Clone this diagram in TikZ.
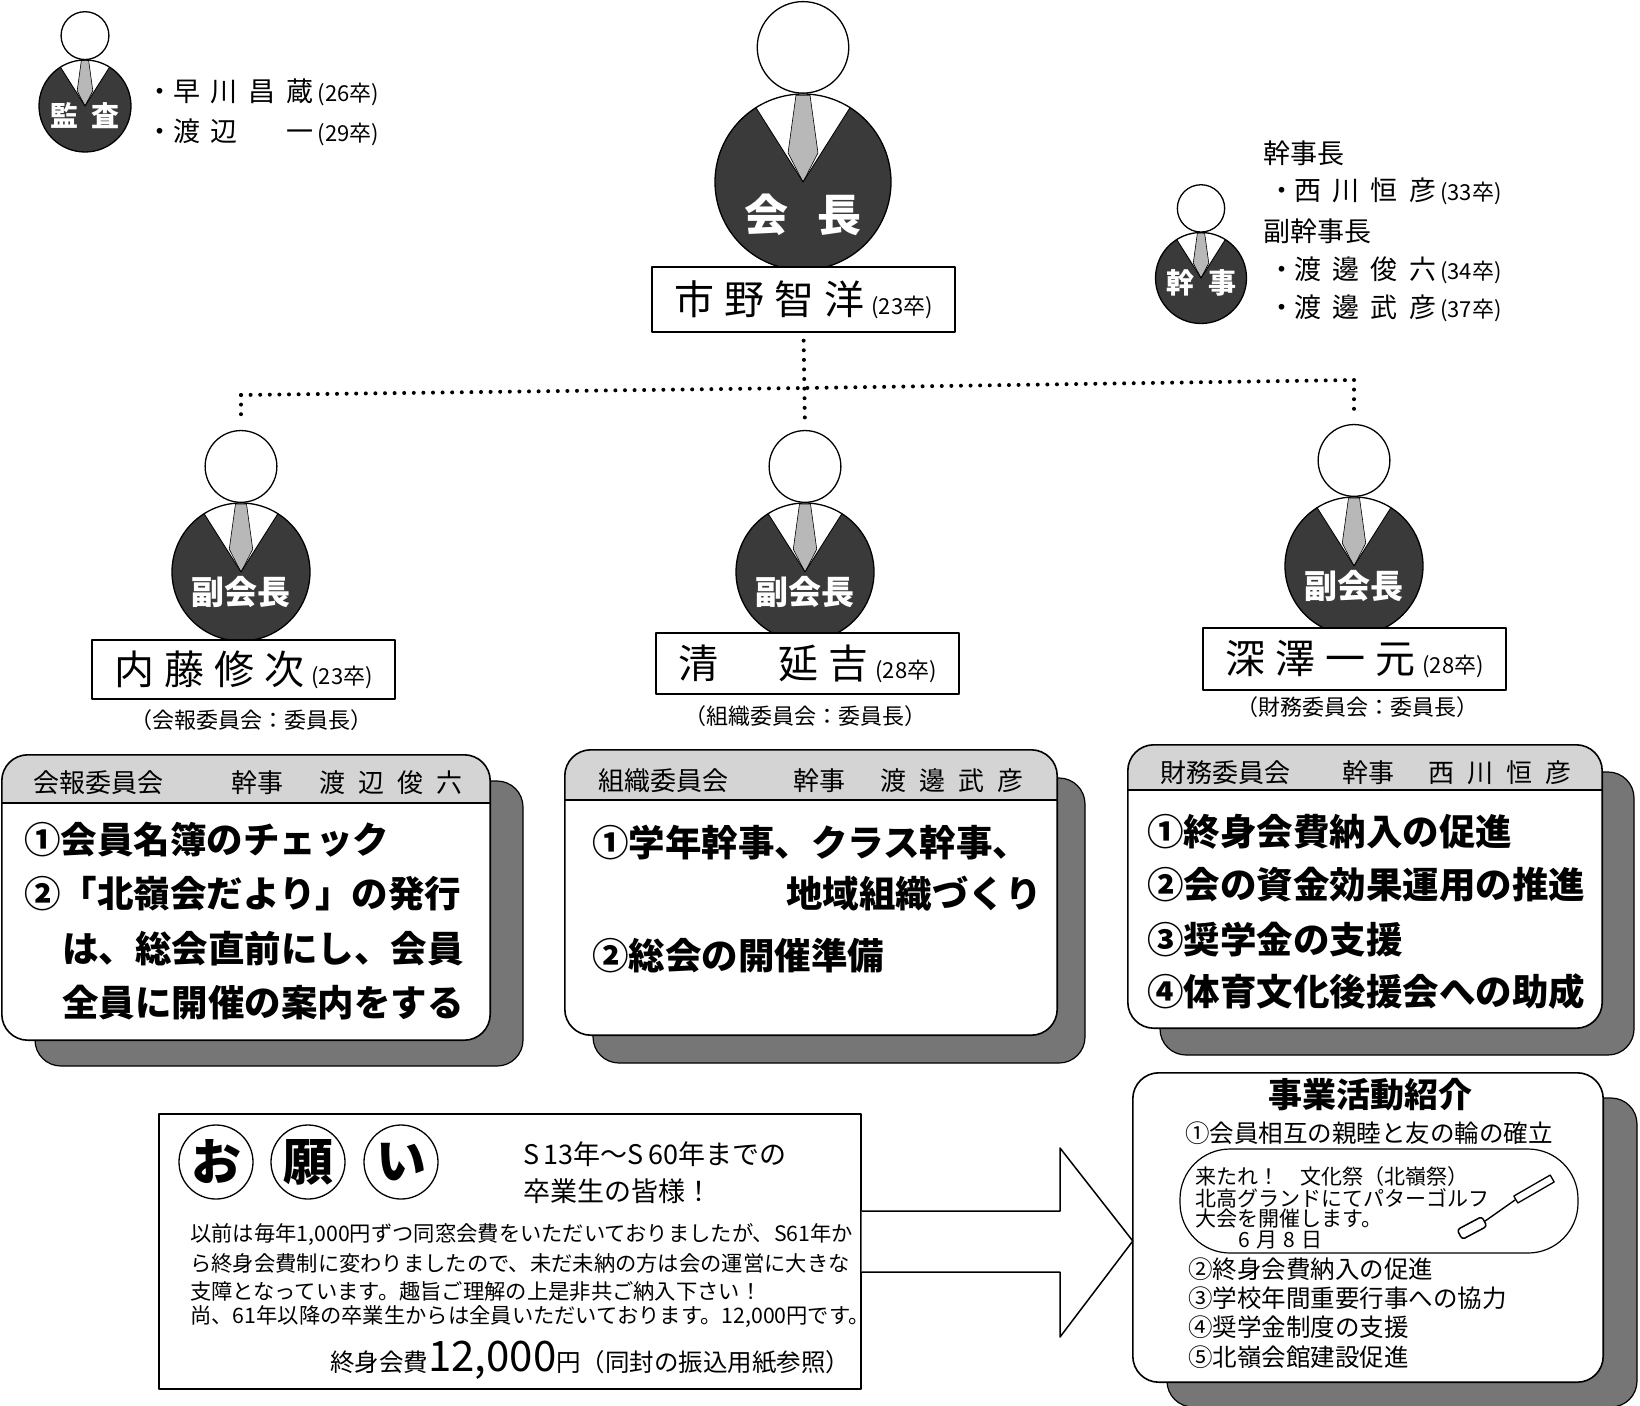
\documentclass[tikz,border=0pt]{standalone}
\usepackage{fontspec}
\setmainfont{Noto Sans CJK JP}
\usetikzlibrary{calc}

\definecolor{suit}{HTML}{3A3A3A}
\definecolor{tiegrey}{HTML}{B8B8B8}
\definecolor{bandgrey}{HTML}{D4D4D4}
\definecolor{shadowgrey}{HTML}{767676}

\newcommand\fsz[1]{\fontsize{#1}{#1}\selectfont}
\newcommand\spaced[2]{{\addfontfeature{LetterSpace=#1}#2}}
\newcommand\bulletmark{\makebox[14pt][c]{・}}

% figure of an officer: #1 name, #2 x, #3 y (body centre), #4 body radius,
% #5 label, #6 label offset (in body radii)
\newcommand\person[6]{%
  \begin{scope}[shift={(#2,#3)}, x=#4pt, y=-#4pt]
    \begin{scope}
      \clip (0,0) circle[radius=1];
      \fill[suit] (-1,-1) rectangle (1,1);
      \fill[white] (0,0) -- (-0.8,-1.26) -- (0.8,-1.26) -- cycle;
    \end{scope}
    \filldraw[fill=tiegrey, draw=black, line width=0.6pt]
      (-0.08,-0.985) -- (0.08,-0.985) -- (0.17,-0.33) -- (0,0) -- (-0.17,-0.33) -- cycle;
    \draw[line width=0.9pt] (-0.535,-0.845) -- (0,0) -- (0.535,-0.845);
    \draw[line width=1.3pt] (0,0) circle[radius=1];
    \node[head, minimum size={1.04*#4pt}] (#1head) at (0,-1.53) {};
    \node[rolelabel] (#1role) at (0,#6) {#5};
  \end{scope}}

% committee panel: shadow plus white face; #1 name, #2..#5 corners, #6 #7 shadow offset
\newcommand\shadowpanel[7]{%
  \filldraw[fill=shadowgrey, draw=black, line width=1.2pt, rounded corners=26pt]
    (#2+#6,#3+#7) rectangle (#4+#6,#5+#7);
  \pgfmathsetmacro\panelW{#4-#2}\pgfmathsetmacro\panelH{#5-#3}%
  \node[fill=white, rounded corners=26pt, inner sep=0pt,
        minimum width=\panelW pt, minimum height=\panelH pt] (#1) at ({(#2+#4)/2},{(#3+#5)/2}) {};}
\newcommand\panelband[5]{%
  \begin{scope}
    \clip[rounded corners=26pt] (#1,#2) rectangle (#3,#4);
    \fill[bandgrey] (#1,#2) rectangle (#3,#5);
  \end{scope}
  \draw[line width=1.3pt] (#1,#5) -- (#3,#5);}
\newcommand\panelframe[1]{%
  \draw[line width=1.6pt, rounded corners=26pt] (#1.south west) rectangle (#1.north east);}

\begin{document}
\begin{tikzpicture}[x=1pt, y=-1pt, line join=round,
  head/.style={circle, draw, fill=white, line width=1.3pt, inner sep=0pt},
  rolelabel/.style={text=white, inner sep=0pt, font=\bfseries},
  namebox/.style={draw, fill=white, line width=1.3pt, inner sep=0pt, minimum width=303pt},
  txt/.style={anchor=west, inner sep=0pt},
  sub/.style={inner sep=0pt, font=\fsz{22}},
  hdr/.style={anchor=west, inner sep=0pt, font=\fsz{26}},
  duty/.style={anchor=west, inner sep=0pt, font=\fsz{36.5}\bfseries},
  item/.style={anchor=west, inner sep=0pt, font=\fsz{24.5}},
  fest/.style={anchor=west, inner sep=0pt, font=\fsz{21}},
  para/.style={anchor=west, inner sep=0pt, font=\fsz{21.3}},
  dotline/.style={line width=4pt, line cap=round, dash pattern=on 0pt off 9.6pt},
  kanjicircle/.style={circle, draw, line width=1.3pt, minimum size=74pt, inner sep=0pt, font=\fsz{50}\bfseries}]

\fill[white] (0,0) rectangle (1640,1405);
\useasboundingbox (0,0) rectangle (1640,1405);

% ---------- officers ----------
\person{aud}{85}{106}{46}{\fsz{28}監\hspace{13pt}査}{0.2}
\person{pres}{803}{182}{88}{\fsz{44}会\hspace{30pt}長}{0.375}
\person{sec}{1201}{278}{45.5}{\fsz{28}幹\hspace{14pt}事}{0.11}
\person{vpa}{241}{572}{69}{\fsz{33}副会長}{0.29}
\person{vpb}{805}{572}{69}{\fsz{33}副会長}{0.29}
\person{vpc}{1354}{566}{69}{\fsz{33}副会長}{0.29}

% ---------- name plates ----------
\node[namebox, minimum height=65pt] (presname) at (803.5,299.5)
  {\fsz{40}\spaced{25}{市野智洋}\hspace{7pt}{\fsz{22}(23卒)}};
\node[namebox, minimum height=59pt] (vpaname) at (243.5,669.5)
  {\fsz{40}\spaced{25}{内藤修次}\hspace{7pt}{\fsz{22}(23卒)}};
\node[namebox, minimum height=61pt] (vpbname) at (807.5,663.5)
  {\fsz{40}\spaced{25}{清　延吉}\hspace{7pt}{\fsz{22}(28卒)}};
\node[namebox, minimum height=62pt] (vpcname) at (1354.5,659)
  {\fsz{40}\spaced{25}{深澤一元}\hspace{7pt}{\fsz{22}(28卒)}};

\node[sub] (vpasub) at (251,720) {（会報委員会：委員長）};
\node[sub] (vpbsub) at (805,716) {（組織委員会：委員長）};
\node[sub] (vpcsub) at (1357,707) {（財務委員会：委員長）};

% ---------- dotted links ----------
\coordinate (jL) at (241,395);
\coordinate (jM) at (804,388);
\coordinate (jR) at (1354,380);
\draw[dotline, shorten <=8pt, shorten >=8pt] (presname.south) -- (vpbhead.north);
\draw[dotline] (jL) -- (jM) -- (jR);
\draw[dotline, shorten >=8pt] (jL) -- (vpahead.north);
\draw[dotline, shorten >=8pt] (jR) -- (vpchead.north);

% ---------- auditors and secretaries ----------
\node[txt, font=\fsz{27}] (audA) at (153,92)
  {\bulletmark\hspace{6pt}\spaced{40}{早川昌蔵}\hspace{4pt}{\fsz{22}(26卒)}};
\node[txt, font=\fsz{27}] (audB) at (153,132)
  {\bulletmark\hspace{6pt}\spaced{40}{渡辺　一}\hspace{4pt}{\fsz{22}(29卒)}};

\node[txt, font=\fsz{27}] (secA) at (1263,153) {幹事長};
\node[txt, font=\fsz{27}] (secB) at (1275,191)
  {\bulletmark\hspace{5pt}\spaced{42}{西川恒彦}\hspace{4pt}{\fsz{22}(33卒)}};
\node[txt, font=\fsz{27}] (secC) at (1263,231) {副幹事長};
\node[txt, font=\fsz{27}] (secD) at (1275,270)
  {\bulletmark\hspace{5pt}\spaced{42}{渡邊俊六}\hspace{4pt}{\fsz{22}(34卒)}};
\node[txt, font=\fsz{27}] (secE) at (1275,308)
  {\bulletmark\hspace{5pt}\spaced{42}{渡邊武彦}\hspace{4pt}{\fsz{22}(37卒)}};

% ---------- committee panels ----------
\shadowpanel{kaiho}{2}{755}{490}{1040}{33}{26}
\panelband{2}{755}{490}{1040}{803}
\panelframe{kaiho}
\node[hdr] (kaihoH1) at (33,783) {会報委員会};
\node[hdr] (kaihoH2) at (231,783) {幹事};
\node[hdr] (kaihoH3) at (319,783) {\spaced{50}{渡辺俊六}};
\node[duty] (kaihoL1) at (24,840) {①会員名簿のチェック};
\node[duty] (kaihoL2) at (24,894) {②「北嶺会だより」の発行};
\node[duty] (kaihoL3) at (62,949) {は、総会直前にし、会員};
\node[duty] (kaihoL4) at (62,1003) {全員に開催の案内をする};

\shadowpanel{soshiki}{565}{750}{1057}{1035}{28}{28}
\panelband{565}{750}{1057}{1035}{800}
\panelframe{soshiki}
\node[hdr] (soshikiH1) at (598,781) {組織委員会};
\node[hdr] (soshikiH2) at (793,781) {幹事};
\node[hdr] (soshikiH3) at (880,781) {\spaced{50}{渡邊武彦}};
\node[duty] (soshikiL1) at (592,843) {①学年幹事、クラス幹事、};
\node[duty, anchor=east] (soshikiL2) at (1042,894) {地域組織づくり};
\node[duty] (soshikiL3) at (592,956) {②総会の開催準備};

\shadowpanel{zaimu}{1128}{745}{1602}{1028}{32}{27}
\panelband{1128}{745}{1602}{1028}{790}
\panelframe{zaimu}
\node[hdr] (zaimuH1) at (1160,773) {財務委員会};
\node[hdr] (zaimuH2) at (1342,773) {幹事};
\node[hdr] (zaimuH3) at (1428,773) {\spaced{50}{西川恒彦}};
\node[duty] (zaimuL1) at (1147,832) {①終身会費納入の促進};
\node[duty] (zaimuL2) at (1147,885) {②会の資金効果運用の推進};
\node[duty] (zaimuL3) at (1147,940) {③奨学金の支援};
\node[duty] (zaimuL4) at (1147,992) {④体育文化後援会への助成};

% ---------- activities panel ----------
\shadowpanel{jigyo}{1133}{1073}{1603}{1382}{34}{25}
\panelframe{jigyo}
\node[inner sep=0pt, font=\fsz{34}\bfseries] (jigyoTitle) at (1370,1095) {事業活動紹介};
\node[item] (jigyo1) at (1185,1133) {①会員相互の親睦と友の輪の確立};
\node[draw, line width=1.2pt, rounded corners=50pt, minimum width=398pt, minimum height=104pt,
      inner sep=0pt] (festival) at (1379,1201) {};
\node[fest] (festA) at (1195,1177) {来たれ！　文化祭（北嶺祭）};
\node[fest] (festB) at (1195,1198) {北高グランドにてパターゴルフ};
\node[fest] (festC) at (1195,1219) {大会を開催します。};
\node[fest] (festD) at (1238,1240) {\spaced{30}{6月8日}};
% putter
\node[draw, fill=white, line width=1.3pt, minimum width=42pt, minimum height=8pt, inner sep=0pt,
      rotate=30] (grip) at (1534,1189) {};
\node[draw, fill=white, line width=1.5pt, rounded corners=3pt, minimum width=28pt, minimum height=11pt,
      inner sep=0pt, rotate=28] (clubhead) at (1472,1228) {};
\draw[line width=1.4pt] (clubhead.east) -- (grip.west);
\node[item] (jigyo2) at (1188,1269) {②終身会費納入の促進};
\node[item] (jigyo3) at (1188,1298) {③学校年間重要行事への協力};
\node[item] (jigyo4) at (1188,1327) {④奨学金制度の支援};
\node[item] (jigyo5) at (1188,1357) {⑤北嶺会館建設促進};

% ---------- request box ----------
\node[draw, line width=1.3pt, minimum width=702pt, minimum height=275pt, inner sep=0pt] (onegai) at (510,1251.5) {};
\node[kanjicircle] (reqA) at (216,1162) {お};
\node[kanjicircle] (reqB) at (308,1162) {願};
\node[kanjicircle] (reqC) at (401,1162) {い};
\node[txt, font=\fsz{27}] (reqT1) at (523,1154) {S\,13年～S\,60年までの};
\node[txt, font=\fsz{27}] (reqT2) at (523,1191) {卒業生の皆様！};
\node[para] (reqP1) at (190,1234) {以前は毎年1,000円ずつ同窓会費をいただいておりましたが、S61年か};
\node[para] (reqP2) at (190,1263) {ら終身会費制に変わりましたので、未だ未納の方は会の運営に大きな};
\node[para] (reqP3) at (190,1291) {支障となっています。趣旨ご理解の上是非共ご納入下さい！};
\node[para] (reqP4) at (190,1317) {尚、61年以降の卒業生からは全員いただいております。12,000円です。};
\node[anchor=base west, inner sep=0pt, font=\fsz{24.5}] (reqFee) at (330,1371)
  {終身会費{\fsz{42}12,000}円（同封の振込用紙参照）};

% ---------- block arrow ----------
\coordinate (shaftTop) at (0,1211);
\coordinate (shaftBot) at (0,1272);
\coordinate (tipLevel) at (0,1241);
\draw[line width=1.5pt, fill=white] (onegai.east |- shaftTop) -- (1060,1211) -- (1060,1148)
  -- (jigyo.west |- tipLevel) -- (1060,1337) -- (1060,1272) -- (onegai.east |- shaftBot);
\end{tikzpicture}
\end{document}
